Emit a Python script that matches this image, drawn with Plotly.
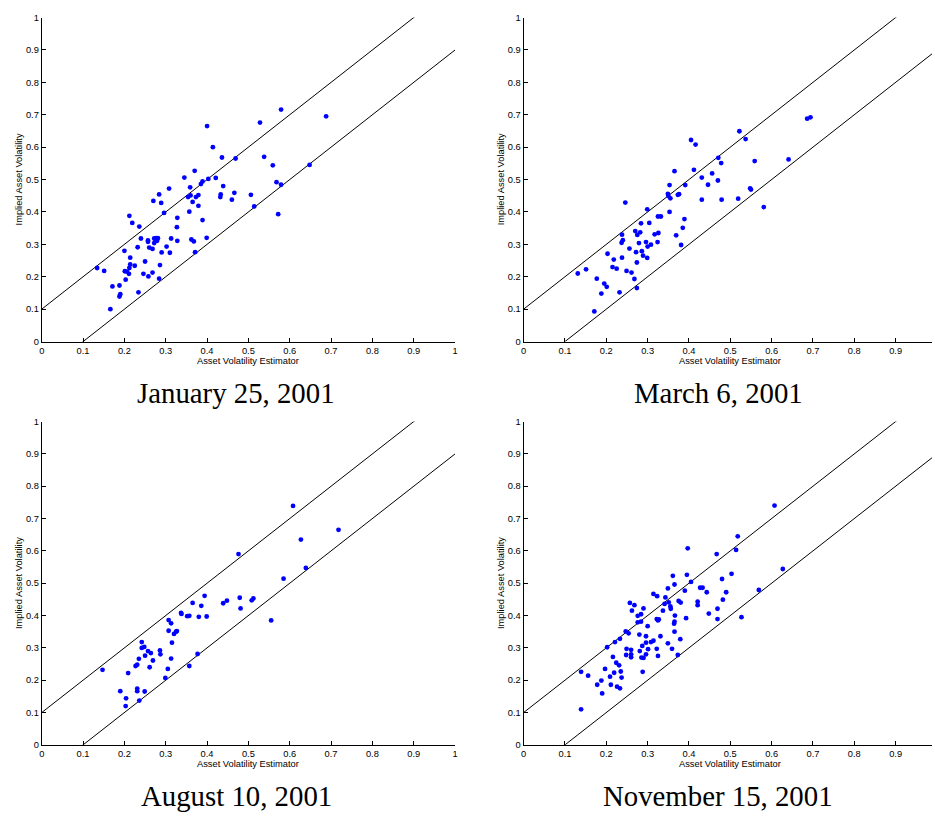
import plotly.graph_objects as go

# ---------------- data: (asset volatility estimator, implied asset volatility) ----------------
jan_est = [0.134, 0.151, 0.166, 0.171, 0.188, 0.188, 0.190, 0.203, 0.201, 0.206, 0.211, 0.212,
           0.214, 0.214, 0.200, 0.225, 0.234, 0.232, 0.212, 0.219, 0.236, 0.240, 0.246, 0.250,
           0.258, 0.268, 0.257, 0.257, 0.260, 0.268, 0.272, 0.272, 0.277, 0.281, 0.276, 0.279,
           0.286, 0.284, 0.290, 0.302, 0.310, 0.313, 0.328, 0.327, 0.328, 0.296, 0.270, 0.289,
           0.284, 0.308, 0.345, 0.370, 0.359, 0.354, 0.360, 0.365, 0.373, 0.379, 0.379, 0.357,
           0.389, 0.362, 0.368, 0.371, 0.399, 0.385, 0.389, 0.403, 0.421, 0.439, 0.433, 0.432,
           0.466, 0.460, 0.400, 0.414, 0.436, 0.469, 0.506, 0.514, 0.528, 0.538, 0.559, 0.568,
           0.579, 0.572, 0.579, 0.648, 0.688]
jan_imp = [0.227, 0.218, 0.100, 0.170, 0.173, 0.139, 0.146, 0.191, 0.217, 0.216, 0.209, 0.227,
           0.238, 0.259, 0.280, 0.234, 0.152, 0.291, 0.388, 0.366, 0.355, 0.318, 0.209, 0.247,
           0.201, 0.213, 0.312, 0.308, 0.290, 0.286, 0.304, 0.318, 0.319, 0.319, 0.312, 0.311,
           0.236, 0.194, 0.275, 0.293, 0.274, 0.318, 0.311, 0.353, 0.382, 0.397, 0.434, 0.428,
           0.454, 0.472, 0.506, 0.527, 0.476, 0.446, 0.451, 0.431, 0.446, 0.452, 0.419, 0.401,
           0.375, 0.315, 0.309, 0.276, 0.320, 0.486, 0.494, 0.502, 0.505, 0.480, 0.454, 0.446,
           0.459, 0.438, 0.665, 0.600, 0.568, 0.565, 0.453, 0.417, 0.676, 0.570, 0.544, 0.492,
           0.484, 0.393, 0.716, 0.545, 0.695]

mar_est = [0.131, 0.151, 0.171, 0.177, 0.188, 0.195, 0.201, 0.203, 0.215, 0.218, 0.225, 0.232,
           0.238, 0.238, 0.240, 0.237, 0.246, 0.249, 0.256, 0.261, 0.268, 0.270, 0.272, 0.274,
           0.274, 0.275, 0.279, 0.282, 0.284, 0.286, 0.289, 0.296, 0.299, 0.299, 0.300, 0.304,
           0.308, 0.317, 0.324, 0.326, 0.325, 0.332, 0.349, 0.350, 0.353, 0.355, 0.353, 0.365,
           0.369, 0.373, 0.376, 0.381, 0.385, 0.389, 0.391, 0.405, 0.412, 0.416, 0.431, 0.431,
           0.446, 0.456, 0.470, 0.471, 0.478, 0.479, 0.519, 0.522, 0.537, 0.548, 0.550, 0.559,
           0.581, 0.641, 0.686, 0.694]
mar_imp = [0.210, 0.223, 0.093, 0.194, 0.148, 0.179, 0.169, 0.271, 0.230, 0.253, 0.225, 0.152,
           0.259, 0.330, 0.313, 0.305, 0.429, 0.218, 0.287, 0.213, 0.193, 0.341, 0.276, 0.165,
           0.244, 0.329, 0.304, 0.337, 0.365, 0.279, 0.265, 0.307, 0.258, 0.408, 0.293, 0.366,
           0.299, 0.331, 0.307, 0.335, 0.386, 0.386, 0.456, 0.450, 0.483, 0.442, 0.400, 0.526,
           0.328, 0.453, 0.455, 0.298, 0.351, 0.378, 0.483, 0.622, 0.530, 0.608, 0.506, 0.438,
           0.484, 0.519, 0.497, 0.567, 0.551, 0.438, 0.441, 0.649, 0.625, 0.473, 0.469, 0.557,
           0.415, 0.562, 0.688, 0.692]

aug_est = [0.147, 0.190, 0.204, 0.203, 0.209, 0.231, 0.231, 0.236, 0.249, 0.227, 0.231, 0.235,
           0.242, 0.242, 0.248, 0.250, 0.257, 0.264, 0.261, 0.269, 0.286, 0.287, 0.299, 0.305,
           0.313, 0.315, 0.307, 0.307, 0.313, 0.320, 0.325, 0.327, 0.337, 0.338, 0.352, 0.357,
           0.357, 0.365, 0.377, 0.380, 0.386, 0.394, 0.399, 0.439, 0.448, 0.476, 0.479, 0.481,
           0.508, 0.512, 0.555, 0.585, 0.608, 0.627, 0.639, 0.718]
aug_imp = [0.232, 0.166, 0.144, 0.120, 0.222, 0.174, 0.166, 0.137, 0.165, 0.244, 0.248, 0.266,
           0.318, 0.300, 0.303, 0.276, 0.290, 0.284, 0.240, 0.261, 0.292, 0.280, 0.207, 0.235,
           0.267, 0.316, 0.353, 0.386, 0.376, 0.343, 0.350, 0.352, 0.408, 0.405, 0.398, 0.399,
           0.244, 0.439, 0.281, 0.396, 0.430, 0.461, 0.397, 0.438, 0.446, 0.590, 0.455, 0.422,
           0.447, 0.453, 0.385, 0.514, 0.739, 0.635, 0.547, 0.665]

nov_est = [0.139, 0.139, 0.156, 0.178, 0.188, 0.190, 0.197, 0.202, 0.209, 0.211, 0.216, 0.219,
           0.224, 0.226, 0.221, 0.233, 0.231, 0.235, 0.237, 0.233, 0.247, 0.254, 0.257, 0.262,
           0.268, 0.249, 0.248, 0.260, 0.260, 0.260, 0.276, 0.276, 0.284, 0.284, 0.290, 0.280,
           0.281, 0.285, 0.290, 0.288, 0.287, 0.296, 0.296, 0.296, 0.300, 0.301, 0.308, 0.314,
           0.314, 0.323, 0.322, 0.327, 0.325, 0.322, 0.325, 0.331, 0.337, 0.343, 0.341, 0.351,
           0.349, 0.355, 0.356, 0.349, 0.359, 0.361, 0.365, 0.366, 0.365, 0.364, 0.365, 0.373,
           0.375, 0.380, 0.379, 0.390, 0.393, 0.395, 0.397, 0.405, 0.421, 0.421, 0.427, 0.433,
           0.443, 0.448, 0.467, 0.469, 0.469, 0.480, 0.482, 0.490, 0.503, 0.514, 0.518, 0.527,
           0.569, 0.607, 0.627]
nov_imp = [0.110, 0.226, 0.214, 0.186, 0.199, 0.159, 0.235, 0.302, 0.211, 0.186, 0.272, 0.223,
           0.254, 0.180, 0.318, 0.328, 0.246, 0.227, 0.208, 0.175, 0.351, 0.345, 0.439, 0.415,
           0.432, 0.297, 0.278, 0.294, 0.280, 0.271, 0.399, 0.379, 0.404, 0.381, 0.422, 0.341,
           0.290, 0.270, 0.269, 0.226, 0.306, 0.280, 0.336, 0.316, 0.367, 0.296, 0.318, 0.322,
           0.467, 0.460, 0.389, 0.388, 0.385, 0.297, 0.275, 0.336, 0.415, 0.456, 0.436, 0.441,
           0.484, 0.428, 0.421, 0.314, 0.297, 0.523, 0.496, 0.400, 0.381, 0.375, 0.350, 0.278,
           0.445, 0.440, 0.327, 0.477, 0.392, 0.526, 0.608, 0.504, 0.443, 0.432, 0.486, 0.486,
           0.472, 0.406, 0.590, 0.421, 0.389, 0.513, 0.449, 0.472, 0.529, 0.603, 0.645, 0.395,
           0.479, 0.740, 0.544]

panel_titles = ["January 25, 2001", "March 6, 2001", "August 10, 2001", "November 15, 2001"]
series = [(jan_est, jan_imp), (mar_est, mar_imp), (aug_est, aug_imp), (nov_est, nov_imp)]

tick_vals = [0, 0.1, 0.2, 0.3, 0.4, 0.5, 0.6, 0.7, 0.8, 0.9, 1]
tick_text = ["0", "0.1", "0.2", "0.3", "0.4", "0.5", "0.6", "0.7", "0.8", "0.9", "1"]

band = 0.1            # half-width of the band around the 45-degree line
diag = [0.0, 1.0]     # x extent of the band edges

# ---------------- layout geometry (pixels) ----------------
W, H = 935, 820
x_left = [39, 524, 39, 524]          # x = 0 position for each panel
px_per_unit_x = 416
y_top = [12.7, 12.7, 421.7, 421.7]   # y = 1
y_bot = [340.7, 340.7, 749.0, 749.0] # y = 0

tick_font = dict(family="Liberation Sans, Arial, sans-serif", size=9.3, color="black")
label_font = dict(family="Liberation Sans, Arial, sans-serif", size=9.3, color="black")
title_font = dict(family="Liberation Serif, Times New Roman, serif", size=28.8, color="black")

fig = go.Figure()
annotations = []

for i, ((xs, ys), title) in enumerate(zip(series, panel_titles)):
    n = i + 1
    xa = "x" if n == 1 else f"x{n}"
    ya = "y" if n == 1 else f"y{n}"

    x0 = x_left[i]
    x1 = min(x0 + px_per_unit_x, W)
    xmax = (x1 - x0) / px_per_unit_x

    # band edges y = x + 0.1 and y = x - 0.1
    fig.add_trace(go.Scatter(x=diag, y=[d + band for d in diag], mode="lines",
                             line=dict(color="black", width=1), xaxis=xa, yaxis=ya,
                             showlegend=False, hoverinfo="skip"))
    fig.add_trace(go.Scatter(x=diag, y=[d - band for d in diag], mode="lines",
                             line=dict(color="black", width=1), xaxis=xa, yaxis=ya,
                             showlegend=False, hoverinfo="skip"))
    fig.add_trace(go.Scatter(x=xs, y=ys, mode="markers",
                             marker=dict(color="#0000ff", size=4.8, line=dict(width=0)),
                             xaxis=xa, yaxis=ya, showlegend=False, cliponaxis=False))

    axis_common = dict(showgrid=False, zeroline=False, showline=True, linecolor="black",
                       linewidth=1, mirror=False, ticks="inside", ticklen=4,
                       tickcolor="black", tickwidth=1, tickvals=tick_vals,
                       ticktext=tick_text, tickfont=tick_font, fixedrange=True)

    fig.layout[f"xaxis{'' if n == 1 else n}"] = dict(
        domain=[x0 / W, x1 / W], range=[0, xmax], anchor=ya, **axis_common)
    fig.layout[f"yaxis{'' if n == 1 else n}"] = dict(
        domain=[1 - y_bot[i] / H, 1 - y_top[i] / H], range=[0, 1], anchor=xa, **axis_common)

    # axis titles
    annotations.append(dict(text="Asset Volatility Estimator", xref="paper", yref="paper",
                            x=(x0 + px_per_unit_x / 2) / W, y=1 - (y_bot[i] + 19.5) / H,
                            xanchor="center", yanchor="middle", showarrow=False,
                            font=label_font))
    annotations.append(dict(text="Implied Asset Volatility", xref="paper", yref="paper",
                            x=(x0 - 23) / W, y=1 - ((y_top[i] + y_bot[i]) / 2) / H,
                            xanchor="center", yanchor="middle", textangle=-90,
                            showarrow=False, font=label_font))
    # panel caption
    annotations.append(dict(text=title, xref="paper", yref="paper",
                            x=(x0 + 196) / W, y=1 - (y_bot[i] + 52) / H,
                            xanchor="center", yanchor="middle", showarrow=False,
                            font=title_font))

fig.update_layout(width=W, height=H, margin=dict(l=0, r=0, t=0, b=0),
                  paper_bgcolor="white", plot_bgcolor="white",
                  annotations=annotations, showlegend=False)

fig.write_html("out.html", config={"displayModeBar": False})
